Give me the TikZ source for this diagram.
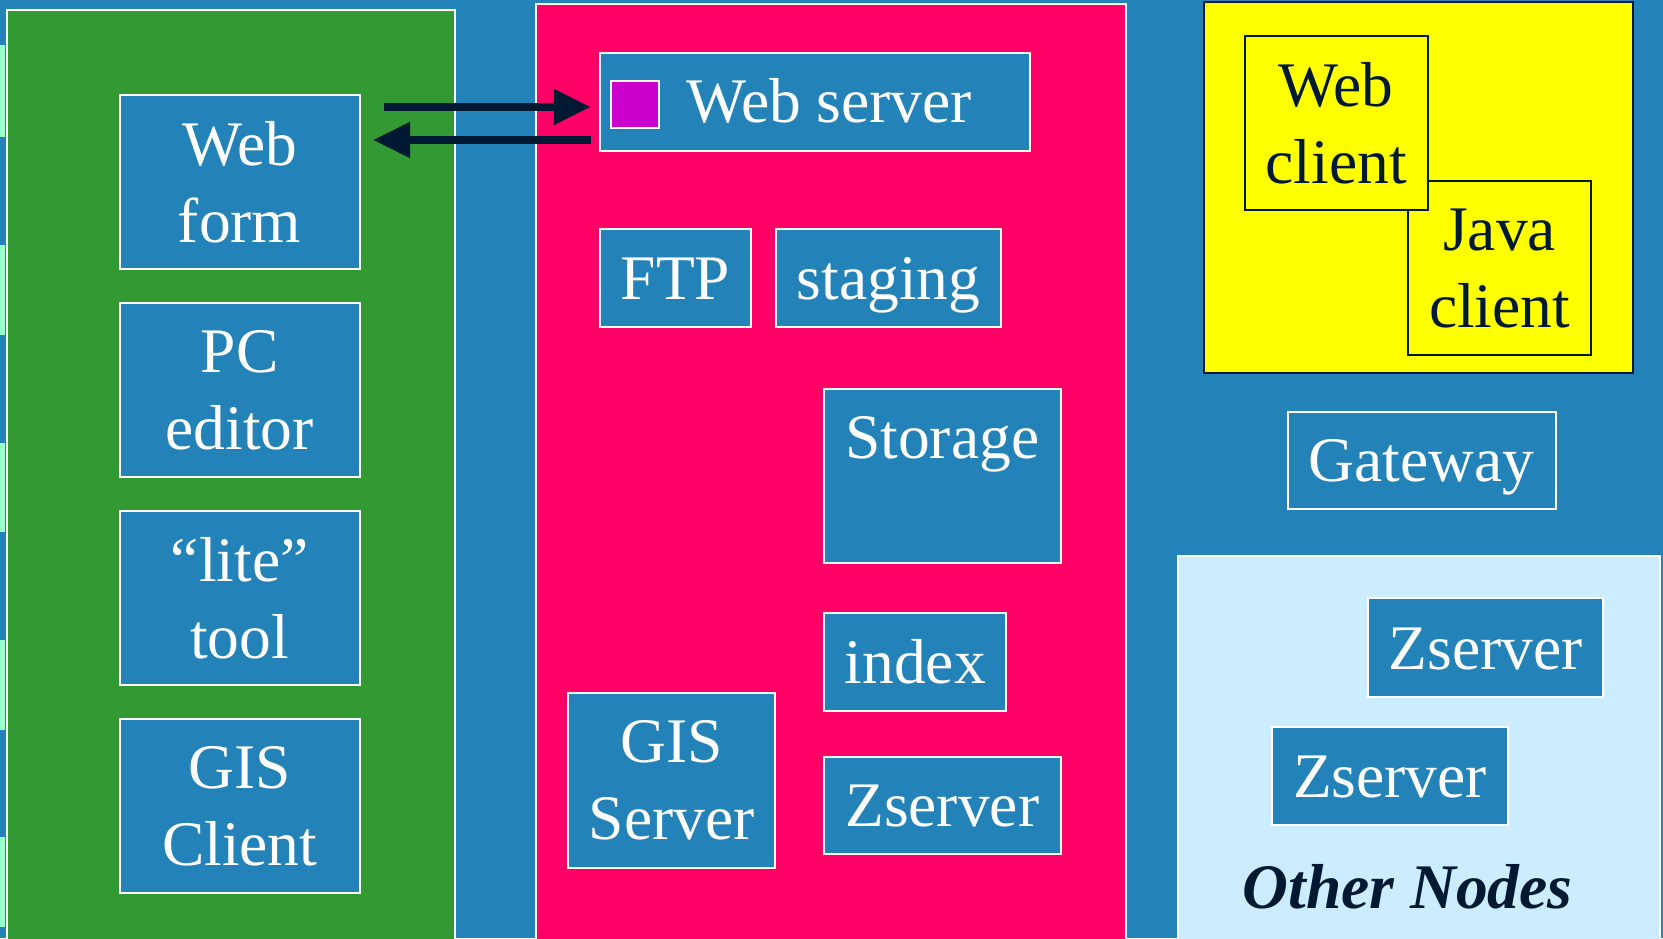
\documentclass[tikz,border=0pt]{standalone}
\usepackage{fontspec}
\setmainfont{Liberation Serif}
\usetikzlibrary{arrows.meta,calc}
\definecolor{bgblue}{RGB}{35,131,184}
\definecolor{pgreen}{RGB}{51,153,51}
\definecolor{ppink}{RGB}{255,0,102}
\definecolor{pyellow}{RGB}{255,255,0}
\definecolor{plight}{RGB}{204,236,255}
\definecolor{navy}{RGB}{0,25,51}
\definecolor{mag}{RGB}{204,0,204}
\definecolor{mint}{RGB}{153,255,204}
\newcommand\dfont{\fontsize{63.5}{77}\selectfont}
\begin{document}
\begin{tikzpicture}[x=1pt,y=-1pt,
  panelw/.style={draw=white, line width=2pt},
  bbox/.style={draw=white, line width=2pt, fill=bgblue, inner sep=0pt, anchor=north west, text=white, font=\dfont},
  ybox/.style={draw=navy, line width=2pt, fill=pyellow, inner sep=0pt, anchor=north west, text=navy, font=\dfont},
  one/.style={text height=43pt, text depth=0pt},
  two/.style={align=center},
  txt/.style={inner sep=0pt, text=white, font=\dfont, text height=43pt, text depth=0pt},
  arr/.style={draw=navy, line width=8pt, -{Triangle[length=37pt,width=34pt]}}]
\useasboundingbox (0,0) rectangle (1663,938);
\clip (0,0) rectangle (1663,938);
\fill[bgblue] (0,0) rectangle (1663,938);
% left edge stripes
\foreach \a/\b in {45/137,245/335,443/532,640/730,837/927}
  \fill[mint] (0,\a) rectangle (5,\b);
% panels
\path[panelw, fill=pgreen] (7.4,9.5) rectangle (455,950);
\path[panelw, fill=ppink] (535.6,4.2) rectangle (1126.4,950);
\path[draw=navy, line width=2pt, fill=pyellow] (1203.8,2.1) rectangle (1633.3,373.3);
\path[panelw, fill=plight] (1178.3,556) rectangle (1660,950);
% left column
\node[bbox, two, minimum width=239.7pt, minimum height=174pt] (wf) at (118.8,94.4) {Web\\form};
\node[bbox, two, minimum width=239.7pt, minimum height=174pt] (pc) at (118.8,302.3) {PC\\editor};
\node[bbox, two, minimum width=239.7pt, minimum height=174pt] (lt) at (118.8,510.1) {“lite”\\tool};
\node[bbox, two, minimum width=239.7pt, minimum height=174pt] (gc) at (118.8,718) {GIS\\Client};
% middle column
\node[bbox, minimum width=429.6pt, minimum height=97.5pt] (ws) at (599.2,52) {};
\node[draw=white, line width=2pt, fill=mag, minimum size=47.7pt, inner sep=0pt, anchor=north west] (sq) at (609.8,79.5) {};
\node[txt, anchor=west] (wst) at (686,100.75) {Web server};
\node[bbox, one, minimum width=150.6pt, minimum height=97.6pt] (ftp) at (599.2,228) {FTP};
\node[bbox, one, minimum width=224.8pt, minimum height=97.6pt] (stg) at (775.3,228) {staging};
\node[bbox, minimum width=236.5pt, minimum height=174pt] (sto) at (823,388.2) {};
\node[txt, anchor=base] (stot) at (sto.north |- 0,458) {Storage};
\node[bbox, one, minimum width=182.4pt, minimum height=97.5pt] (idx) at (823,612) {index};
\node[bbox, two, minimum width=206.8pt, minimum height=175pt] (gs) at (567.4,691.5) {GIS\\Server};
\node[bbox, one, minimum width=236.5pt, minimum height=96.5pt] (zs) at (823,756.2) {Zserver};
% right column
\node[ybox, two, minimum width=182.4pt, minimum height=174pt] (jc) at (1407.4,180.3) {Java\\client};
\node[ybox, two, minimum width=182.4pt, minimum height=174pt] (wc) at (1244.1,35) {Web\\client};
\node[bbox, one, minimum width=268.3pt, minimum height=97.5pt] (gw) at (1286.5,410.5) {Gateway};
\node[bbox, one, minimum width=235pt, minimum height=99pt] (z1) at (1367,597) {Zserver};
\node[bbox, one, minimum width=236pt, minimum height=98pt] (z2) at (1271,726) {Zserver};
\node[inner sep=0pt, anchor=base, text=navy, font=\dfont\bfseries\itshape] (on) at (1407.5,908) {Other Nodes};
% arrows
\draw[arr] ($(wf.east |- 0,107)+(23.3,0)$) -- ($(ws.west |- 0,107)+(-8.4,0)$);
\draw[arr] ($(ws.west |- 0,140)+(-8.4,0)$) -- ($(wf.east |- 0,140)+(12.5,0)$);
\end{tikzpicture}
\end{document}
